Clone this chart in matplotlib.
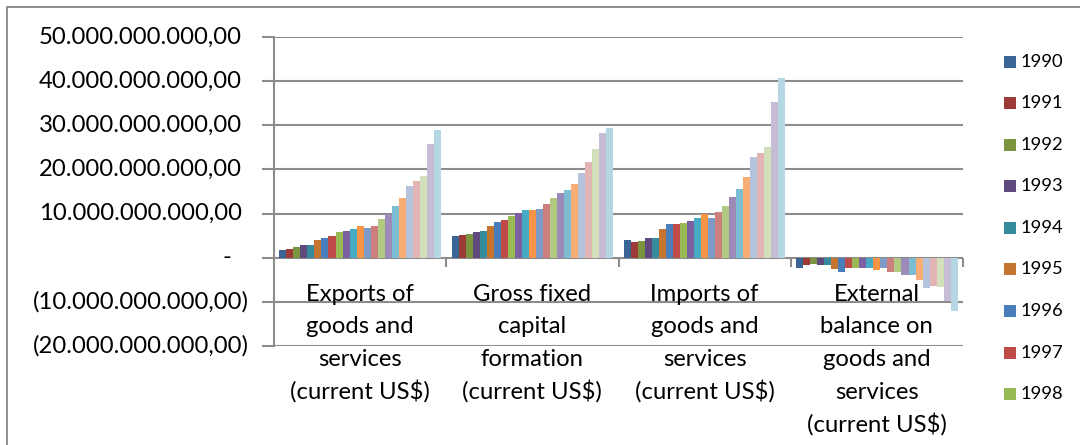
import matplotlib
matplotlib.use("Agg")
import matplotlib.pyplot as plt
from matplotlib.patches import Rectangle
import numpy as np

plt.rcParams['font.family'] = ['Lato', 'DejaVu Sans']

# ---------------- data ----------------
years = list(range(1990, 2013))
categories = [
    "Exports of\ngoods and\nservices\n(current US$)",
    "Gross fixed\ncapital\nformation\n(current US$)",
    "Imports of\ngoods and\nservices\n(current US$)",
    "External\nbalance on\ngoods and\nservices\n(current US$)",
]
# values in billions of US$ (series = years, order matches categories)
exports = [1.69, 1.99, 2.30, 2.84, 2.91, 4.06, 4.44, 4.98, 5.82, 5.98, 6.51, 7.13,
           6.67, 7.28, 8.66, 9.89, 11.65, 13.49, 16.17, 17.39, 18.54, 25.75, 29.04]
gfcf = [4.96, 5.11, 5.34, 5.88, 6.10, 7.18, 8.09, 8.63, 9.47, 10.08, 10.69, 10.69,
        10.92, 12.06, 13.59, 14.73, 15.27, 16.72, 19.24, 21.76, 24.58, 28.24, 29.47]
imports = [3.95, 3.65, 3.80, 4.49, 4.49, 6.46, 7.53, 7.53, 7.91, 8.37, 8.90, 9.96,
           8.90, 10.27, 11.71, 13.84, 15.51, 18.25, 22.81, 23.65, 25.10, 35.36, 40.84]
ext_balance = [-2.30, -1.69, -1.53, -1.69, -1.69, -2.53, -3.20, -2.45, -2.30, -2.45, -2.45, -2.90,
               -2.45, -3.20, -3.20, -4.06, -4.06, -4.98, -6.90, -6.50, -6.74, -9.96, -12.10]

ytick_values = [-20e9, -10e9, 0, 10e9, 20e9, 30e9, 40e9, 50e9]
ytick_labels = ["(20.000.000.000,00)", "(10.000.000.000,00)", "-",
                "10.000.000.000,00", "20.000.000.000,00", "30.000.000.000,00",
                "40.000.000.000,00", "50.000.000.000,00"]
legend_shown = 9  # Excel legend truncated to the first 9 entries

colors = [
    "#3B6496", "#9B3A37", "#7A9440", "#5F4A7E", "#358A9C", "#C5752F",
    "#4A7EBB", "#BE4B48", "#98B954", "#7D60A0", "#46AAC5", "#F69546",
    "#7E9BC8", "#CD7F7D", "#B2C981", "#9C8AB8", "#7DBDD3", "#F8AD74",
    "#B6C3DD", "#E2B5B4", "#D1DFBB", "#C6BCD6", "#B4D7E3",
]

# ---------------- figure ----------------
W, H = 1080, 445
fig = plt.figure(figsize=(W / 100, H / 100), dpi=100)
fig.patch.set_facecolor("white")

# outer chart border (only top/left visible in the crop)
fig.patches.append(Rectangle((7 / W, -0.1), 1.2, (H - 7) / H + 0.1, transform=fig.transFigure,
                             fill=False, edgecolor="#868686", linewidth=1.3))

ax_l, ax_r, ax_t, ax_b = 274, 963, 37.3, 345.7
ax = fig.add_axes([ax_l / W, (H - ax_b) / H, (ax_r - ax_l) / W, (ax_b - ax_t) / H])
ax.set_facecolor("none")

series = np.array([exports, gfcf, imports, ext_balance]) * 1e9  # shape (4, 23)
n_cat = len(categories)
n_ser = len(years)
gap = 1.5
bw = 1.0 / (n_ser + gap)
x0 = np.arange(n_cat)
for j in range(n_ser):
    xs = x0 - 0.5 + gap * bw / 2 + (j + 0.5) * bw
    ax.bar(xs, series[:, j], width=bw, color=colors[j], linewidth=0, zorder=3)

ymin, ymax = -20e9, 50e9
ax.set_xlim(-0.5, n_cat - 0.5)
ax.set_ylim(ymin, ymax)

grid_c = "#8C8C8C"
for v in ytick_values:
    ax.axhline(v, color=grid_c, linewidth=1.5, zorder=1)
ax.set_xticks([])
for s in ["top", "right", "bottom"]:
    ax.spines[s].set_visible(False)
ax.spines["left"].set_color(grid_c)
ax.spines["left"].set_linewidth(1.5)
ax.set_yticks(ytick_values)
ax.set_yticklabels([])
ax.tick_params(axis="y", length=9, width=1.5, color=grid_c, direction="out")

# category tick marks below the zero line
xtr = ax.get_xaxis_transform()
zero_frac = (0 - ymin) / (ymax - ymin)
tick_frac = 9 / (ax_b - ax_t)
for b in np.arange(1, n_cat + 1) - 0.5:
    ax.plot([b, b], [zero_frac, zero_frac - tick_frac], transform=xtr, color=grid_c,
            linewidth=1.5, solid_capstyle="butt", zorder=2, clip_on=False)

# y tick labels, Excel accounting alignment
tfs = 17.2
ytr = ax.get_yaxis_transform()
for v, lab in zip(ytick_values, ytick_labels):
    if lab == "-":
        xpx, ha = 227, "center"
    elif lab.startswith("("):
        xpx, ha = 248.5, "right"
    else:
        xpx, ha = 242, "right"
    ax.text((xpx - ax_l) / (ax_r - ax_l), v, lab, transform=ytr, ha=ha, va="center",
            fontsize=tfs, color="#000000")

# category labels inside plot area below zero line
for i, cat in enumerate(categories):
    for k, line in enumerate(cat.split("\n")):
        ax.annotate(line, xy=(i, 0), xycoords="data",
                    xytext=(0, -(43.3 + k * 32.6) * 0.72), textcoords="offset points",
                    ha="center", va="baseline", fontsize=tfs, color="#000000")

# legend (truncated, Excel-like)
for j in range(legend_shown):
    yc = 61.7 + j * 41.55
    fig.patches.append(Rectangle((1004 / W, (H - yc - 6) / H), 12 / W, 12 / H,
                                 transform=fig.transFigure, facecolor=colors[j], edgecolor="none"))
    fig.text(1021 / W, (H - yc) / H, str(years[j]), ha="left", va="center",
             fontsize=13.2, color="#000000")

fig.savefig("out.png", dpi=100, facecolor="white")
